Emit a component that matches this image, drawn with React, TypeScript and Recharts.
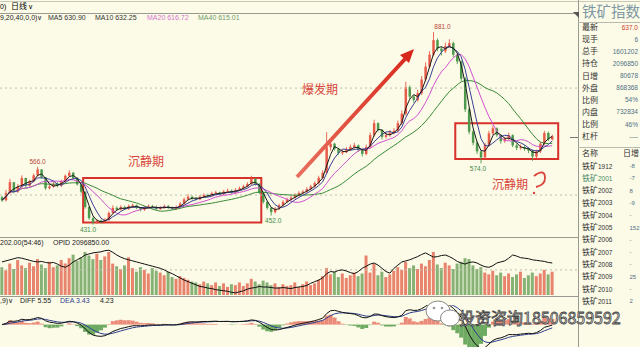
import { Bar, Cell, ComposedChart, Line, ReferenceArea, ReferenceDot, ReferenceLine, XAxis, YAxis } from "recharts";

// each bar stands for two trading days left to right
const closes = [
  488, 505, 530, 508, 520, 540, 522, 532, 546, 560,
  542, 516, 520, 526, 522, 532, 545, 552, 540, 525,
  508, 472, 446, 436, 440, 437, 442, 458, 470, 466,
  472, 468, 474, 476, 470, 466, 470, 474, 472, 468,
  470, 474, 470, 468, 472, 480, 490, 496, 492, 490,
  496, 500, 498, 504, 506, 502, 508, 510, 506, 512,
  516, 520, 526, 538, 526, 505, 484, 470, 460, 468,
  476, 484, 490, 494, 500, 505, 508, 514, 520, 528,
  540, 552, 612, 620, 608, 598, 600, 606, 612, 616,
  605, 596, 612, 640, 668, 652, 636, 640, 646, 650,
  668, 690, 752, 730, 722, 738, 770, 800, 828, 862,
  842, 836, 848, 855, 828, 812, 772, 700, 648, 622,
  602, 588, 618, 644, 656, 640, 626, 632, 640, 616,
  610, 612, 608, 604, 590, 602, 620, 645, 630, 637,
];
const highs = [
  498, 512, 538, 530, 526, 546, 540, 536, 550, 566,
  560, 542, 524, 530, 530, 536, 548, 558, 554, 542,
  528, 508, 474, 450, 444, 443, 446, 462, 476, 474,
  476, 475, 478, 480, 478, 472, 474, 478, 477, 475,
  474, 478, 477, 473, 476, 484, 494, 502, 499, 495,
  500, 504, 503, 508, 510, 508, 512, 515, 513, 516,
  520, 524, 530, 545, 540, 528, 506, 486, 472, 472,
  480, 488, 494, 498, 504, 509, 512, 518, 524, 532,
  545, 558, 647, 628, 622, 610, 606, 612, 618, 622,
  618, 608, 618, 646, 676, 670, 654, 646, 652, 656,
  674, 698, 765, 756, 734, 746, 778, 810, 836, 881,
  866, 846, 856, 864, 858, 830, 814, 776, 704, 652,
  626, 604, 622, 650, 662, 658, 642, 636, 646, 642,
  620, 618, 616, 612, 606, 606, 624, 650, 648, 641,
];
const lows = [
  484, 485, 502, 504, 505, 517, 518, 520, 530, 544,
  538, 512, 513, 517, 518, 519, 529, 542, 536, 522,
  504, 468, 442, 431, 433, 434, 435, 440, 455, 463,
  464, 465, 465, 471, 467, 462, 463, 468, 469, 465,
  465, 468, 467, 465, 466, 470, 478, 488, 489, 487,
  488, 493, 495, 496, 501, 499, 500, 505, 503, 504,
  510, 513, 518, 524, 522, 502, 480, 466, 452, 457,
  465, 474, 482, 487, 491, 497, 502, 505, 511, 517,
  525, 537, 549, 604, 604, 594, 594, 598, 603, 608,
  601, 590, 593, 608, 636, 648, 630, 632, 636, 642,
  646, 664, 686, 724, 716, 718, 734, 765, 796, 824,
  836, 826, 832, 845, 822, 806, 766, 694, 642, 616,
  596, 574, 584, 614, 640, 636, 620, 622, 628, 612,
  605, 606, 603, 598, 580, 586, 598, 617, 626, 628,
];
const volumes = [
  62, 55, 70, 58, 78, 66, 60, 72, 64, 80,
  68, 60, 74, 62, 66, 78, 70, 82, 90, 76,
  84, 96, 88, 80, 92, 78, 86, 96, 70, 64,
  58, 66, 84, 60, 52, 62, 56, 48, 60, 54,
  50, 44, 52, 40, 36, 42, 38, 34, 30, 28,
  24, 30, 26, 22, 28, 20, 26, 18, 24, 22,
  28, 20, 26, 36, 30, 24, 32, 28, 22, 26,
  18, 24, 20, 22, 28, 18, 24, 30, 22, 26,
  34, 42, 60, 46, 52, 40, 48, 38, 44, 50,
  42, 48, 88, 50, 70, 44, 52, 40, 46, 54,
  62, 56, 74, 60, 66, 58, 70, 64, 78, 96,
  68, 60, 72, 66, 58, 70, 74, 82, 80, 66,
  58, 62, 50, 46, 54, 44, 50, 42, 48, 40,
  46, 52, 38, 44, 50, 42, 48, 56, 46, 52,
];
// open interest, 10k lots
const openInterest = [
  212, 214, 216, 218, 220, 219, 217, 215, 213, 212,
  213, 211, 210, 211, 208, 204, 202, 206, 212, 216,
  220, 225, 227, 229, 230, 231, 233, 234, 230, 225,
  221, 218, 216, 214, 212, 210, 208, 206, 204, 202,
  200, 197, 193, 190, 186, 182, 178, 175, 172, 169,
  166, 165, 163, 162, 160, 159, 158, 157, 155, 154,
  156, 158, 161, 163, 164, 166, 165, 165, 164, 163,
  163, 164, 163, 162, 164, 165, 166, 168, 172, 175,
  178, 182, 190, 194, 193, 196, 197, 195, 192, 190,
  194, 200, 204, 208, 210, 206, 200, 194, 191, 200,
  206, 212, 214, 216, 219, 222, 226, 229, 225, 221,
  222, 224, 225, 222, 218, 213, 210, 208, 211, 212,
  210, 206, 203, 202, 205, 210, 212, 214, 219, 225,
  223, 220, 219, 218, 216, 215, 214, 213, 211, 210,
];

const priceGrid = [500, 750];
const volumeGrid = [56];
const maWindows = [3, 5, 10, 20]; // MA5/10/20/40 on two-day bars

const infoLabels = ["最新", "现手", "总手", "持仓", "日增", "外盘", "比例", "内盘", "比例", "杠杆"];
const infoValues = ["637.0", "6", "1601202", "2096850", "80678", "868368", "54%", "732834", "46%", "----"];
const contracts = ["1912", "2001", "2002", "2003", "2004", "2005", "2006", "2007", "2008", "2009", "2010", "2011"];
const contractChanges = ["-8", "-7", "8", "-9", "-", "152", "-", "-", "-", "25", "-", "2"];

const BG = "#fcfbe7";
const UP = "#e65a48";
const DOWN = "#4e9a4c";
const VOL_UP = "#e8846e";
const VOL_DOWN = "#86b276";
const NOTE = "#d9443a";
const PAD = 6;
const W = 578;
const NUM_FONT = "Liberation Sans, Arial, sans-serif";
const CJK = "Noto Sans CJK SC, sans-serif";

function movingAverage(values: number[], n: number) {
  return values.map((_, i) => {
    const part = values.slice(Math.max(0, i - n + 1), i + 1);
    return part.reduce((a, b) => a + b, 0) / part.length;
  });
}

function ema(values: number[], n: number) {
  const k = 2 / (n + 1);
  const out: number[] = [];
  values.forEach((v, i) => out.push(i === 0 ? v : out[i - 1] + k * (v - out[i - 1])));
  return out;
}

const opens = closes.map((c, i) => (i === 0 ? 495 : closes[i - 1]));
const mas = maWindows.map((n) => movingAverage(closes, n));
const fast = ema(closes, 6);
const slow = ema(closes, 13);
const diff = fast.map((v, i) => v - slow[i]);
const dea = ema(diff, 5);

const N = closes.length;
const rows = Array.from({ length: N + PAD }, (_, i) => {
  if (i >= N) return { i };
  return {
    i,
    open: opens[i],
    close: closes[i],
    high: highs[i],
    low: lows[i],
    range: [lows[i], highs[i]],
    ma5: mas[0][i],
    ma10: mas[1][i],
    ma20: mas[2][i],
    ma40: mas[3][i],
    vol: volumes[i],
    oi: openInterest[i],
    diff: diff[i],
    dea: dea[i],
    hist: (diff[i] - dea[i]) * 2,
  };
});

function Candle(props: any) {
  const { x, y, width, height, payload } = props;
  if (payload == null || payload.close == null) return null;
  const { open, close, high, low } = payload;
  const top = Math.min(y, y + height);
  const h = Math.abs(height);
  const k = h / Math.max(1, high - low);
  const yOf = (v: number) => top + (high - v) * k;
  const color = close >= open ? UP : DOWN;
  const cx = x + width / 2;
  const b1 = yOf(Math.max(open, close));
  const b2 = yOf(Math.min(open, close));
  const bw = Math.max(1.6, width * 0.62);
  return (
    <g>
      <line x1={cx} x2={cx} y1={top} y2={top + h} stroke={color} strokeWidth={0.9} />
      <rect x={cx - bw / 2} y={b1} width={bw} height={Math.max(1, b2 - b1)} fill={color} />
    </g>
  );
}

const priceLabel = (value: string, position: "top" | "bottom", fill: string, dx = 0) => ({
  value,
  position,
  fill,
  fontSize: 6.5,
  fontFamily: NUM_FONT,
  offset: 3,
  dx,
});

function PriceChart() {
  return (
    <ComposedChart width={W} height={223} data={rows} margin={{ top: 0, right: 0, bottom: 0, left: 0 }} barCategoryGap={0}>
      <XAxis dataKey="i" hide />
      <YAxis hide domain={[402, 923]} allowDataOverflow />
      {priceGrid.map((p) => (
        <ReferenceLine key={p} y={p} stroke="#bdbdb0" strokeDasharray="2 3" />
      ))}
      <Bar dataKey="range" shape={<Candle />} isAnimationActive={false} />
      <Line dataKey="ma40" stroke="#3a8a36" strokeWidth={1} dot={false} isAnimationActive={false} />
      <Line dataKey="ma20" stroke="#d24fd0" strokeWidth={1} dot={false} isAnimationActive={false} />
      <Line dataKey="ma10" stroke="#3c3f96" strokeWidth={1} dot={false} isAnimationActive={false} />
      <Line dataKey="ma5" stroke="#1c1c1c" strokeWidth={1} dot={false} isAnimationActive={false} />
      <ReferenceArea x1={21} x2={65} y1={436} y2={540} fill="none" stroke="#d8302a" strokeWidth={2} />
      <ReferenceArea x1={115} x2={140} y1={584} y2={668} fill="none" stroke="#d8302a" strokeWidth={2} />
      <ReferenceDot x={9} y={566} r={0} label={priceLabel("566.0", "top", "#b8483a")} />
      <ReferenceDot x={23} y={431} r={0} label={priceLabel("431.0", "bottom", "#3e8a48", -5)} />
      <ReferenceDot x={68} y={452} r={0} label={priceLabel("452.0", "bottom", "#3e8a48", 2)} />
      <ReferenceDot x={109} y={881} r={0} label={priceLabel("881.0", "top", "#b8483a", 9)} />
      <ReferenceDot x={121} y={574} r={0} label={priceLabel("574.0", "bottom", "#3e8a48", -3)} />
    </ComposedChart>
  );
}

function VolumeChart() {
  return (
    <ComposedChart width={W} height={48} data={rows} margin={{ top: 0, right: 0, bottom: 0, left: 0 }} barCategoryGap="8%">
      <XAxis dataKey="i" hide />
      <YAxis yAxisId="v" hide domain={[0, 107]} />
      <YAxis yAxisId="oi" hide orientation="right" domain={[150, 240]} allowDataOverflow />
      {volumeGrid.map((v) => (
        <ReferenceLine key={v} yAxisId="v" y={v} stroke="#bdbdb0" strokeDasharray="2 3" />
      ))}
      <Bar yAxisId="v" dataKey="vol" isAnimationActive={false}>
        {rows.map((r: any) => (
          <Cell key={r.i} fill={r.close >= r.open ? VOL_UP : VOL_DOWN} />
        ))}
      </Bar>
      <Line yAxisId="oi" dataKey="oi" stroke="#111" strokeWidth={1} dot={false} isAnimationActive={false} />
    </ComposedChart>
  );
}

function MacdChart() {
  return (
    <ComposedChart width={W} height={42} data={rows} margin={{ top: 0, right: 0, bottom: 0, left: 0 }} barCategoryGap={0}>
      <XAxis dataKey="i" hide />
      <YAxis hide domain={[-48, 42]} allowDataOverflow />
      <Bar dataKey="hist" isAnimationActive={false}>
        {rows.map((r: any) => (
          <Cell key={r.i} fill={r.hist >= 0 ? "#ea8a78" : "#6faa62"} />
        ))}
      </Bar>
      <Line dataKey="dea" stroke="#2d3f8f" strokeWidth={1} dot={false} isAnimationActive={false} />
      <Line dataKey="diff" stroke="#111" strokeWidth={1} dot={false} isAnimationActive={false} />
    </ComposedChart>
  );
}

function Overlay() {
  const txt = { fontFamily: NUM_FONT, fontSize: 7, dominantBaseline: "middle" as const };
  return (
    <svg width={640} height={347} style={{ position: "absolute", left: 0, top: 0, pointerEvents: "none" }}>
      {/* frame lines */}
      <line x1={0} x2={640} y1={1.5} y2={1.5} stroke="#c9c9bb" />
      <line x1={0} x2={W} y1={13.5} y2={13.5} stroke="#9a9a90" />
      <line x1={0} x2={W} y1={237.5} y2={237.5} stroke="#9a9a90" />
      <line x1={0} x2={W} y1={296.5} y2={296.5} stroke="#9a9a90" />
      <line x1={W + 0.5} x2={W + 0.5} y1={0} y2={347} stroke="#9a9a90" />
      <polygon points="573,12 579,12 579,18" fill="#555" />

      {/* header rows */}
      <text x={0} y={7} {...txt}>0)</text>
      <text x={11} y={7} {...txt} fontFamily={CJK} fontSize={8}>日线</text>
      <text x={28} y={7} {...txt}>∨</text>
      <text x={0} y={18.5} {...txt} fill="#222">9,20,40,0,0)∨</text>
      <text x={48} y={18.5} {...txt} fill="#333">MA5 630.90</text>
      <text x={95} y={18.5} {...txt} fill="#333">MA10 632.25</text>
      <text x={147} y={18.5} {...txt} fill="#d574d2">MA20 616.72</text>
      <text x={198} y={18.5} {...txt} fill="#6f9a6a">MA40 615.01</text>
      <text x={0} y={243} {...txt} fill="#222">202.00(54:46)</text>
      <text x={53} y={243} {...txt} fill="#222">OPID 2096850.00</text>
      <text x={0} y={301} {...txt} fill="#222">,9)∨</text>
      <text x={20} y={301} {...txt} fill="#222">DIFF 5.55</text>
      <text x={60} y={301} {...txt} fill="#2d3f8f">DEA 3.43</text>
      <text x={100} y={301} {...txt} fill="#222">4.23</text>

      {/* notes */}
      <text x={146} y={163} fontFamily={CJK} fontSize={12} fill={NOTE} textAnchor="middle" dominantBaseline="middle">沉静期</text>
      <text x={320} y={91} fontFamily={CJK} fontSize={12} fill={NOTE} textAnchor="middle" dominantBaseline="middle">爆发期</text>
      <text x={510} y={186} fontFamily={CJK} fontSize={12} fill={NOTE} textAnchor="middle" dominantBaseline="middle">沉静期</text>
      <path d="M534 176 Q545 168 545 178 Q545 185 536 187" fill="none" stroke={NOTE} strokeWidth={1.8} />
      <circle cx={534} cy={193} r={1.2} fill={NOTE} />
      <defs>
        <linearGradient id="arrowGrad" x1="297" y1="177" x2="413" y2="50" gradientUnits="userSpaceOnUse">
          <stop offset="0" stopColor="#e8705e" />
          <stop offset="1" stopColor="#d8281c" />
        </linearGradient>
      </defs>
      <line x1={297} y1={177} x2={405} y2={59} stroke="url(#arrowGrad)" strokeWidth={4} />
      <polygon points="414,49 409,63 400,55" fill="#d8281c" />

      {/* right info panel */}
      <text x={582} y={13.5} fontFamily={CJK} fontSize={14.5} fill="#7d97a5" dominantBaseline="middle">铁矿指数</text>
      <line x1={W} x2={640} y1={22.5} y2={22.5} stroke="#b9b9ad" />
      {infoLabels.map((l, k) => (
        <g key={k}>
          <text x={582} y={28 + k * 12.1} fontFamily={CJK} fontSize={8} fill="#333" dominantBaseline="middle">{l}</text>
          <text x={638} y={28 + k * 12.1} fontFamily={NUM_FONT} fontSize={6.5} fill={k === 0 ? "#d03a30" : "#4f6f86"} textAnchor="end" dominantBaseline="middle">{infoValues[k]}</text>
        </g>
      ))}
      <line x1={570} x2={W} y1={137.5} y2={137.5} stroke="#777" />
      <line x1={W} x2={640} y1={147.5} y2={147.5} stroke="#b9b9ad" />
      <text x={582} y={154} fontFamily={CJK} fontSize={8} fill="#333" dominantBaseline="middle">名称</text>
      <text x={623} y={154} fontFamily={CJK} fontSize={8} fill="#333" dominantBaseline="middle">日增</text>
      {contracts.map((c, k) => (
        <g key={c}>
          <text x={582} y={166.5 + k * 12.3} fontFamily={CJK} fontSize={8} fill={k === 1 ? "#4a8a6a" : "#333"} dominantBaseline="middle">
            铁矿<tspan fontFamily={NUM_FONT} fontSize={6.5}>{c}</tspan>
          </text>
          <text x={629.5} y={166.5 + k * 12.3} fontFamily={NUM_FONT} fontSize={6} fill="#4f6f86" dominantBaseline="middle">{contractChanges[k]}</text>
        </g>
      ))}

      {/* watermark */}
      <ellipse cx={438} cy={311} rx={12} ry={10} fill="#fff" stroke="#888" strokeWidth={1} />
      <ellipse cx={450} cy={318} rx={9.5} ry={8} fill="#fff" stroke="#888" strokeWidth={1} />
      <circle cx={434} cy={308} r={1.3} fill="#999" />
      <circle cx={442} cy={308} r={1.3} fill="#999" />
      <text x={459} y={320} fontFamily={CJK} fontSize={16} fill="#fff" stroke="#444" strokeWidth={0.8} dominantBaseline="middle">投资咨询18506859592</text>
    </svg>
  );
}

export default function App() {
  return (
    <div style={{ position: "fixed", left: 0, top: 0, width: 640, height: 347, overflow: "hidden", background: BG }}>
      <div style={{ position: "absolute", left: 0, top: 14 }}>
        <PriceChart />
      </div>
      <div style={{ position: "absolute", left: 0, top: 247 }}>
        <VolumeChart />
      </div>
      <div style={{ position: "absolute", left: 0, top: 305 }}>
        <MacdChart />
      </div>
      <Overlay />
    </div>
  );
}
